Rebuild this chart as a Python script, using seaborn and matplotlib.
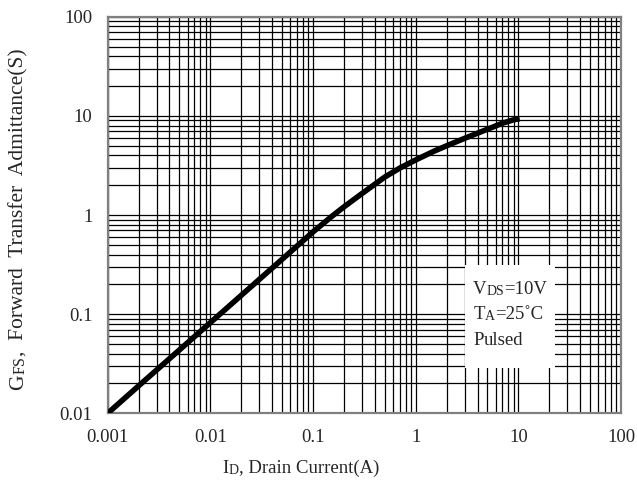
import numpy as np
import pandas as pd
import matplotlib
matplotlib.use("Agg")
import matplotlib.pyplot as plt
import seaborn as sns
from matplotlib.patches import Rectangle
from matplotlib.ticker import LogLocator, FixedLocator, FixedFormatter, NullFormatter

# ===============================
# Datos
# ===============================
drain_current = [0.001, 0.002, 0.005, 0.01, 0.02, 0.05, 0.1, 0.15, 0.2, 0.3,
                 0.5, 0.7, 1.0, 1.5, 2.0, 3.0, 5.0, 7.0, 9.0, 10.3]
gfs = [0.01, 0.0189, 0.0436, 0.0822, 0.155, 0.358, 0.676, 0.958, 1.21, 1.65,
       2.42, 2.98, 3.6, 4.4, 5.0, 5.95, 7.35, 8.45, 9.15, 9.38]

xticks = [0.001, 0.01, 0.1, 1, 10, 100]
xtick_labels = ["0.001", "0.01", "0.1", "1", "10", "100"]
yticks = [0.01, 0.1, 1, 10, 100]
ytick_labels = ["0.01", "0.1", "1", "10", "100"]

df = pd.DataFrame({"ID": drain_current, "GFS": gfs})

# ===============================
# Estilo
# ===============================
sns.set_style("whitegrid")
plt.rcParams["font.family"] = ["Liberation Serif", "DejaVu Serif"]

fig = plt.figure(figsize=(6.37, 4.95), dpi=100)
ax = fig.add_axes([0.169, 0.165, 0.806, 0.801])

sns.lineplot(data=df, x="ID", y="GFS", ax=ax, color="black", linewidth=4,
             solid_capstyle="butt", zorder=5)

ax.set_xscale("log")
ax.set_yscale("log")
ax.set_xlim(0.001, 100)
ax.set_ylim(0.01, 100)

ax.xaxis.set_major_locator(FixedLocator(xticks))
ax.xaxis.set_major_formatter(FixedFormatter(xtick_labels))
ax.yaxis.set_major_locator(FixedLocator(yticks))
ax.yaxis.set_major_formatter(FixedFormatter(ytick_labels))
ax.xaxis.set_minor_locator(LogLocator(base=10, subs=np.arange(2, 10), numticks=20))
ax.yaxis.set_minor_locator(LogLocator(base=10, subs=np.arange(2, 10), numticks=20))
ax.xaxis.set_minor_formatter(NullFormatter())
ax.yaxis.set_minor_formatter(NullFormatter())

ax.grid(True, which="both", color="black", linewidth=0.9)
ax.tick_params(which="major", length=3, width=1, color="black", labelsize=13.5)
ax.tick_params(which="minor", length=0)
ax.tick_params(axis="x", pad=8)
ax.tick_params(axis="y", pad=8)
for s in ax.spines.values():
    s.set_color("#808080")
    s.set_linewidth(1.6)
ax.set_xlabel("")
ax.set_ylabel("")

# Etiquetas de ejes con versalitas
t1 = fig.text(0.349, 0.036, "I", fontsize=13.5, ha="left", va="bottom")
t2 = ax.annotate("D", xycoords=t1, xy=(1, 0), ha="left", va="bottom", fontsize=10,
                 annotation_clip=False)
t3 = ax.annotate(", Drain Current(A)", xycoords=t2, xy=(1, 0), ha="left", va="bottom",
                 fontsize=13.5, annotation_clip=False)

y1 = fig.text(0.015, 0.213, "G", fontsize=15.5, rotation=90, ha="left", va="bottom")
y2 = ax.annotate("FS", xycoords=y1, xy=(1, 1), ha="right", va="bottom", rotation=90,
                 fontsize=11.5, annotation_clip=False)
y3 = ax.annotate(",  Forward  Transfer  Admittance(S)", xycoords=y2, xy=(1, 1), ha="right",
                 va="bottom", rotation=90, fontsize=15.5, annotation_clip=False)

# Recuadro de condiciones
ax.add_patch(Rectangle((0.696, 0.115), 0.175, 0.259, transform=ax.transAxes,
                       facecolor="white", edgecolor="none", zorder=6))
lines = [("V", "DS", "=10V"), ("T", "A", "=25˚C"), ("P", "", "ulsed")]
ypos = [0.292, 0.228, 0.162]
for (a, b, c), yy in zip(lines, ypos):
    p1 = ax.text(0.712, yy, a, transform=ax.transAxes, fontsize=13.5, zorder=7,
                 ha="left", va="bottom")
    p2 = ax.annotate(b, xycoords=p1, xy=(1, 0), ha="left", va="bottom",
                     fontsize=10, zorder=7)
    ax.annotate(c, xycoords=p2, xy=(1, 0), ha="left", va="bottom",
                fontsize=13.5, zorder=7)

fig.savefig("out.png", dpi=100)
